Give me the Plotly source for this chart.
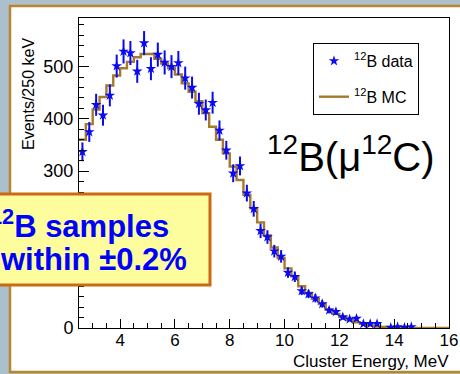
import plotly.graph_objects as go

# ---- data ----
bin_low = 2.5      # MeV, left edge of first bin
bin_width = 0.25   # MeV (250 keV bins)

data_counts = [337, 375, 427, 407, 445, 501, 529, 526, 491, 545,
               496, 523, 508, 500, 507, 478, 460, 429, 417, 431,
               378, 340, 296, 310, 258, 228, 186, 174, 147, 137,
               106, 98, 71, 65, 57, 46, 34, 31, 21, 17,
               18, 8, 8, 8, None, 1, 2, 1, 2]
data_errors = [18, 19, 21, 20, 21, 22, 23, 23, 22, 23,
               22, 23, 23, 22, 23, 22, 21, 21, 20, 21,
               19, 18, 17, 18, 16, 15, 14, 13, 12, 12,
               10, 10, 8, 8, 8, 7, 6, 6, 5, 4,
               4, 3, 3, 3, None, 1, 1.4, 1, 1.4]

mc_counts = [360, 390, 418, 442, 464, 483, 497, 509, 518, 524,
             524, 515, 506, 497, 485, 468, 452, 434, 411, 385,
             360, 334, 309, 283, 255, 229, 202, 177, 154, 134,
             114, 99, 80, 67, 56, 46, 35, 27, 21, 15,
             11, 8, 5, 3, 2, 1, 1, 0.5, 0.3, 0.2,
             0.1, 0, 0, 0]

x_range = [2.5, 16]
y_range = [0, 593]
x_tick_vals = [4, 6, 8, 10, 12, 14, 16]
y_tick_vals = [0, 100, 200, 300, 400, 500]
y_tick_text = ["0", "", "", "300", "400", "500"]   # 100 and 200 hidden by the box

# ---- derived bin geometry ----
n_mc = len(mc_counts)
mc_edges = [bin_low + i * bin_width for i in range(n_mc + 1)]
data_centers = [bin_low + (i + 0.5) * bin_width for i in range(len(data_counts))]

# ---- figure geometry (pixels) ----
W, H = 460, 374
L, R, T, B = 79, 11, 18, 46
PW, PH = W - L - R, H - T - B


def px(x):
    return (x - L) / PW


def py(y):
    return (H - B - y) / PH


FONT = "Liberation Sans, Arial, Helvetica, sans-serif"
MC_COLOR = "#a67a2c"
DATA_COLOR = "#0a0af0"

fig = go.Figure()

fig.add_trace(go.Scatter(
    x=mc_edges, y=mc_counts + [mc_counts[-1]],
    mode="lines", line=dict(shape="hv", color=MC_COLOR, width=2.4),
    name="<sup>12</sup>B MC", legendgroup="mc", legendrank=2,
    hoverinfo="skip",
))

fig.add_trace(go.Scatter(
    x=data_centers, y=data_counts,
    mode="markers",
    marker=dict(symbol="star", size=8, color=DATA_COLOR, line=dict(width=0)),
    error_y=dict(type="data", array=data_errors, visible=True,
                 color=DATA_COLOR, thickness=2, width=0),
    name="<sup>12</sup>B data", legendgroup="data", legendrank=1,
    hoverinfo="skip",
))

shapes = [
    # white panel with golden frame (behind everything)
    dict(type="rect", xref="paper", yref="paper", layer="below",
         x0=px(10), x1=px(475), y0=py(372), y1=py(6),
         fillcolor="white", line=dict(color="#b8862e", width=2.5)),
    # yellow info box
    dict(type="rect", xref="paper", yref="paper", layer="above",
         x0=px(-10), x1=px(210), y0=py(285), y1=py(194),
         fillcolor="#fdfd9e", line=dict(color="#cc6a14", width=3)),
]

annotations = [
    dict(text="Events/250 keV", textangle=-90, xref="paper", yref="paper",
         x=px(29), y=py(94), xanchor="center", yanchor="middle", showarrow=False,
         font=dict(family=FONT, size=16, color="black")),
    dict(text="Cluster Energy, MeV", xref="paper", yref="paper",
         x=px(451), y=py(361), xanchor="right", yanchor="middle", showarrow=False,
         font=dict(family=FONT, size=17, color="black")),
    dict(text="<sup>12</sup>B(μ<sup>12</sup>C)", xref="paper", yref="paper",
         x=px(351), y=py(154), xanchor="center", yanchor="middle", showarrow=False,
         font=dict(family=FONT, size=40, color="black")),
    dict(text="<b><sup>12</sup>B samples</b>", xref="paper", yref="paper",
         x=px(171), y=py(224), xanchor="right", yanchor="middle", showarrow=False,
         font=dict(family=FONT, size=31, color="#0000ff")),
    dict(text="<b>within ±0.2%</b>", xref="paper", yref="paper",
         x=px(189), y=py(259), xanchor="right", yanchor="middle", showarrow=False,
         font=dict(family=FONT, size=31, color="#0000ff")),
]

fig.update_layout(
    width=W, height=H,
    margin=dict(l=L, r=R, t=T, b=B, pad=0, autoexpand=False),
    paper_bgcolor="#acbfcd",
    plot_bgcolor="white",
    shapes=shapes,
    annotations=annotations,
    showlegend=True,
    legend=dict(x=px(313), y=py(43), xanchor="left", yanchor="top",
                bgcolor="white", bordercolor="black", borderwidth=1,
                font=dict(family=FONT, size=16, color="black"),
                tracegroupgap=12, itemwidth=30, traceorder="grouped"),
    xaxis=dict(range=x_range, tickvals=x_tick_vals, ticks="inside", ticklen=9,
               tickwidth=1, tickcolor="black", showline=True, linecolor="black",
               linewidth=1, mirror=True, showgrid=False, zeroline=False,
               tickfont=dict(family=FONT, size=17, color="black"),
               ticklabelstandoff=-3,
               minor=dict(ticks="inside", ticklen=5, dtick=0.5, tick0=0,
                          tickcolor="black", showgrid=False)),
    yaxis=dict(range=y_range, tickvals=y_tick_vals, ticktext=y_tick_text,
               ticks="inside", ticklen=10,
               tickwidth=1, tickcolor="black", showline=True, linecolor="black",
               linewidth=1, mirror=True, showgrid=False, zeroline=False,
               tickfont=dict(family=FONT, size=18, color="black"),
               ticklabelstandoff=1,
               minor=dict(ticks="inside", ticklen=5, dtick=20, tick0=0,
                          tickcolor="black", showgrid=False)),
)

fig.write_html("out.html")
